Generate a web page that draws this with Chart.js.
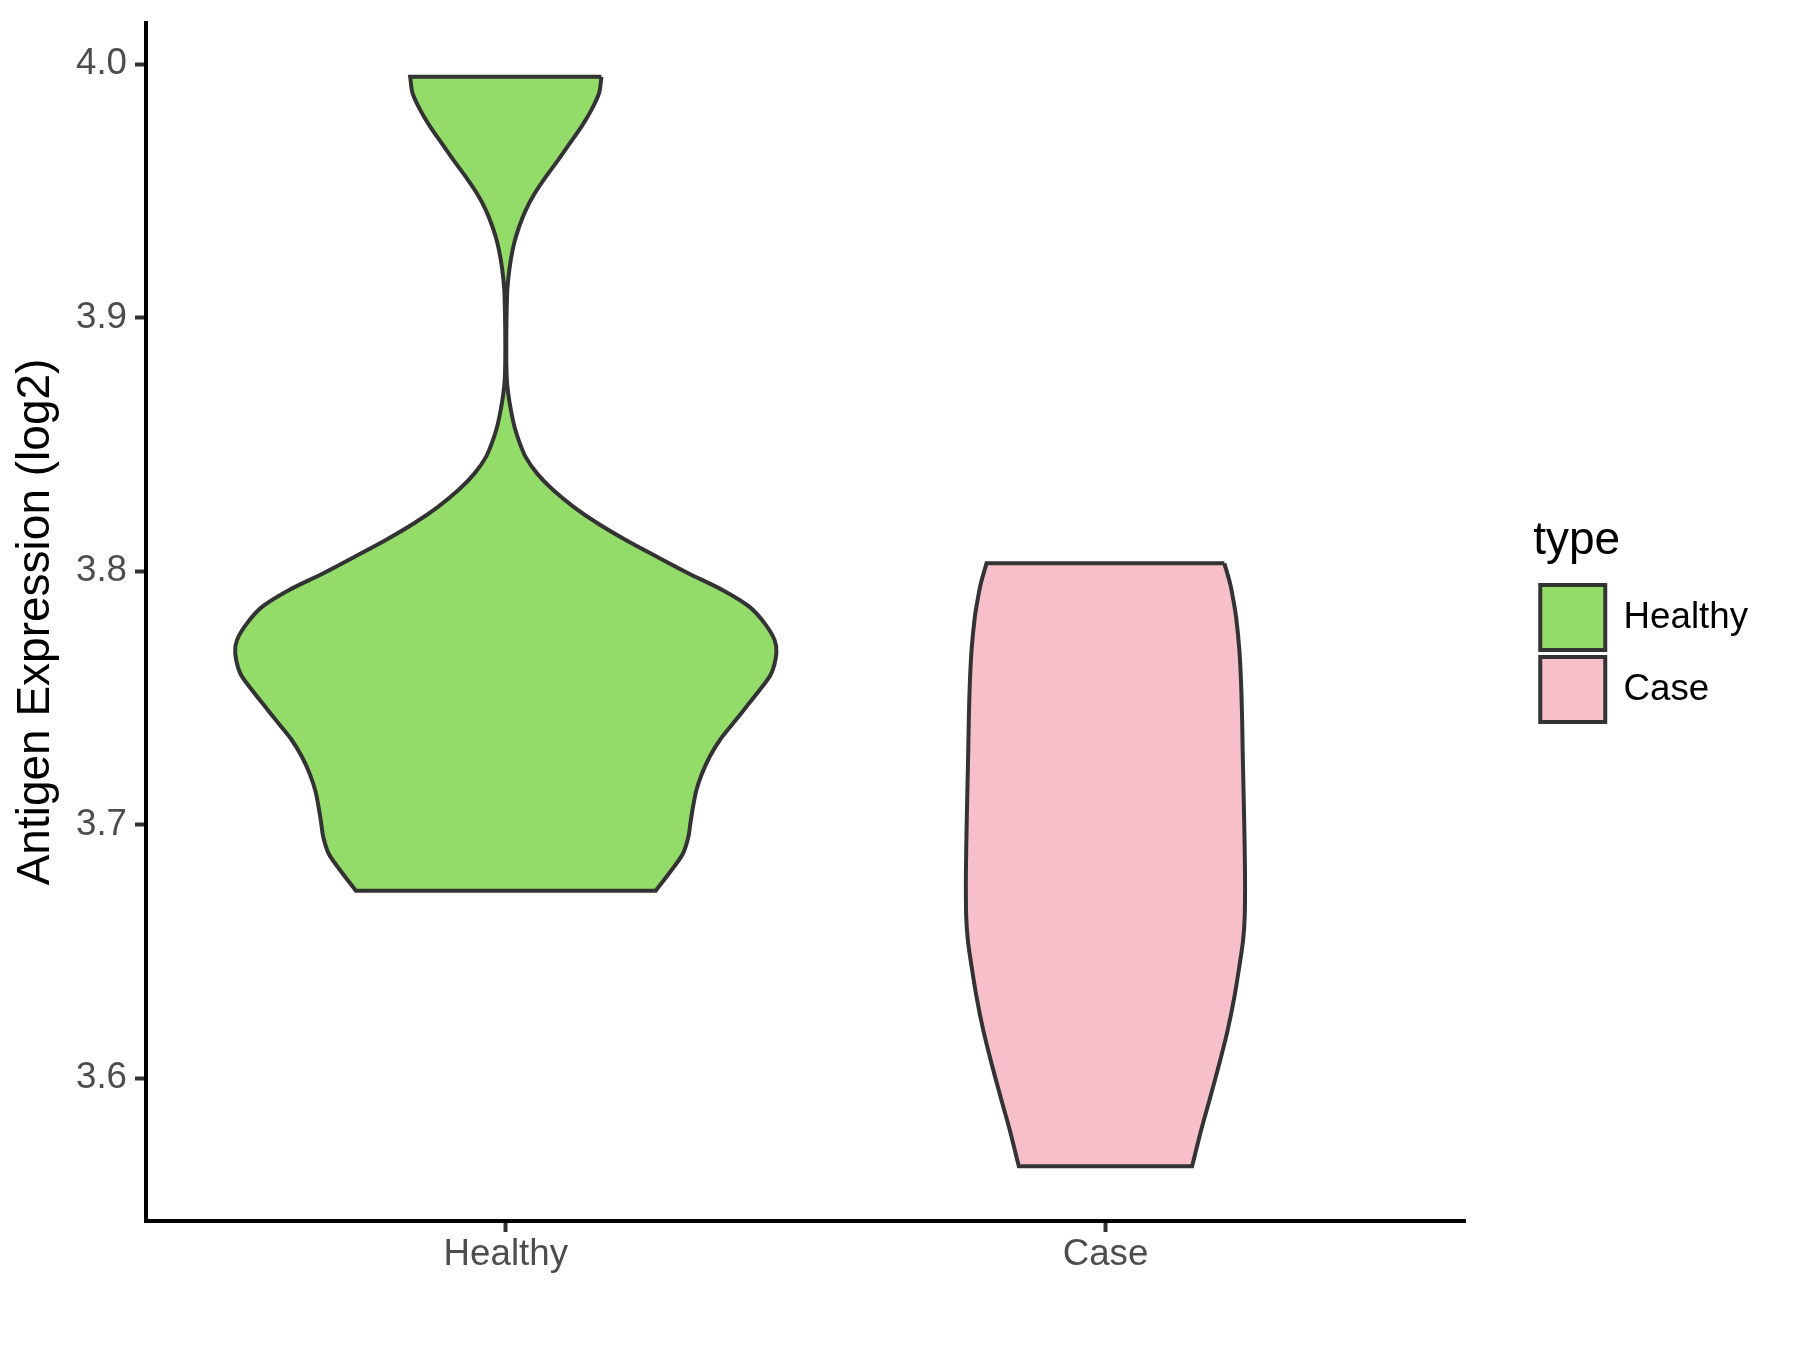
<!DOCTYPE html>
<html>
<head>
<meta charset="utf-8">
<script src="https://cdn.jsdelivr.net/npm/chart.js@4.4.1/dist/chart.umd.min.js"></script>
<style>
  body { margin: 0; background: #ffffff; }
  canvas { display: block; }
</style>
</head>
<body>
<canvas id="myChart" width="1800" height="1350"></canvas>
<script>
// categories and axis ticks
var categories = ['Healthy', 'Case'];
var yTicks = [3.6, 3.7, 3.8, 3.9, 4.0];

// violin outlines: y value and half width (in category units)
var healthyY = [3.9951, 3.9886, 3.9820, 3.9754, 3.9688, 3.9622, 3.9556, 3.9491, 3.9425, 3.9359,
    3.9294, 3.9228, 3.9162, 3.9096, 3.8899, 3.8767, 3.8702, 3.8636, 3.8570, 3.8517,
    3.8451, 3.8386, 3.8320, 3.8254, 3.8189, 3.8123, 3.8057, 3.7991, 3.7925, 3.7860,
    3.7794, 3.7728, 3.7676, 3.7597, 3.7531, 3.7465, 3.7399, 3.7333, 3.7268, 3.7202,
    3.7136, 3.7070, 3.7005, 3.6952, 3.6886, 3.6820, 3.6739];
var healthyHalfWidth = [0.1595, 0.1555, 0.1428, 0.1262, 0.1067, 0.0872, 0.0667, 0.0483, 0.0333, 0.0222,
    0.0139, 0.0083, 0.0045, 0.0022, 0.0008, 0.0015, 0.0040, 0.0085, 0.0145, 0.0215,
    0.0330, 0.0520, 0.0790, 0.1130, 0.1530, 0.2000, 0.2520, 0.3050, 0.3620, 0.4060,
    0.4317, 0.4483, 0.4512, 0.4428, 0.4233, 0.4012, 0.3788, 0.3567, 0.3400, 0.3272,
    0.3178, 0.3122, 0.3078, 0.3045, 0.2955, 0.2762, 0.2500];

var caseY = [3.8031, 3.7952, 3.7886, 3.7820, 3.7689, 3.7557, 3.7425, 3.7294, 3.7163, 3.7031,
    3.6899, 3.6768, 3.6636, 3.6544, 3.6452, 3.6320, 3.6189, 3.6058, 3.5926, 3.5794, 3.5652];
var caseHalfWidth = [0.1983, 0.2078, 0.2133, 0.2178, 0.2233, 0.2262, 0.2278, 0.2288, 0.2300, 0.2312,
    0.2322, 0.2328, 0.2322, 0.2295, 0.2240, 0.2150, 0.2038, 0.1900, 0.1750, 0.1595, 0.1445];

var fillColors = ['#93DC6A', '#F7BFCA'];

// closed outline: down the right side, back up the left side.
// corner points are doubled so the flat ends stay straight
function outline(center, ys, hw) {
    var n = ys.length - 1;
    var pts = [];
    for (var i = 0; i <= n; i++) pts.push({ x: center + hw[i], y: ys[i] });
    pts.push({ x: center + hw[n], y: ys[n] });
    for (var j = n; j >= 0; j--) {
        pts.push({ x: center - hw[j], y: ys[j] });
        if (j === n || j === 0) pts.push({ x: center - hw[j], y: ys[j] });
    }
    pts.push({ x: center + hw[0], y: ys[0] });
    return pts;
}

var violins = [
    outline(1, healthyY, healthyHalfWidth),
    outline(2, caseY, caseHalfWidth)
];

Chart.defaults.font.family = "'Liberation Sans', Arial, sans-serif";

var ctx = document.getElementById('myChart').getContext('2d');

var myChart = new Chart(ctx, {
    type: 'scatter',
    data: {
        datasets: categories.map(function (name, i) {
            return {
                label: name,
                data: violins[i],
                showLine: true,
                fill: 'shape',
                tension: 0.3,
                backgroundColor: fillColors[i],
                borderColor: '#333333',
                borderWidth: 4,
                pointRadius: 0,
                pointHoverRadius: 0
            };
        })
    },
    options: {
        responsive: false,
        devicePixelRatio: 1,
        animation: false,
        events: [],
        layout: { padding: { left: 0, top: 23, right: 42, bottom: 29 } },
        scales: {
            x: {
                type: 'linear',
                min: 0.4,
                max: 2.6,
                afterBuildTicks: function (scale) {
                    scale.ticks = categories.map(function (c, i) { return { value: i + 1 }; });
                },
                afterFit: function (scale) {
                    scale.height = 100;
                    scale.paddingLeft = 0;
                    scale.paddingRight = 0;
                },
                ticks: {
                    color: '#4D4D4D',
                    font: { size: 36.7 },
                    padding: 1,
                    callback: function (value) { return categories[Math.round(value) - 1]; }
                },
                grid: {
                    display: true,
                    drawOnChartArea: false,
                    drawTicks: true,
                    tickLength: 11,
                    tickColor: '#333333',
                    tickWidth: 4
                },
                border: { display: true, color: '#000000', width: 4 }
            },
            y: {
                type: 'linear',
                min: 3.5436,
                max: 4.0163,
                afterBuildTicks: function (scale) {
                    scale.ticks = yTicks.map(function (v) { return { value: v }; });
                },
                afterFit: function (scale) {
                    scale.width = 146;
                    scale.paddingTop = 0;
                    scale.paddingBottom = 0;
                },
                ticks: {
                    color: '#4D4D4D',
                    font: { size: 36.7 },
                    padding: 8,
                    callback: function (value) { return value.toFixed(1); }
                },
                grid: {
                    display: true,
                    drawOnChartArea: false,
                    drawTicks: true,
                    tickLength: 11,
                    tickColor: '#333333',
                    tickWidth: 4
                },
                border: { display: true, color: '#000000', width: 4 },
                title: {
                    display: true,
                    text: 'Antigen Expression (log2)',
                    color: '#000000',
                    font: { size: 46 },
                    padding: { top: 9, bottom: 0 }
                }
            },
            // empty right-hand axis, only keeps the gap between panel and legend
            gap: {
                type: 'linear',
                position: 'right',
                display: true,
                afterFit: function (scale) {
                    scale.width = 68;
                    scale.paddingTop = 0;
                    scale.paddingBottom = 0;
                },
                ticks: { display: false },
                grid: { display: false },
                border: { display: false }
            }
        },
        plugins: {
            tooltip: { enabled: false },
            legend: {
                display: true,
                position: 'right',
                align: 'center',
                fullSize: false,
                maxWidth: 226,
                title: {
                    display: true,
                    text: 'type',
                    color: '#000000',
                    position: 'start',
                    font: { size: 46 },
                    padding: { top: 3, bottom: 5 }
                },
                labels: {
                    boxWidth: 65,
                    boxHeight: 65,
                    padding: 7,
                    color: '#000000',
                    font: { size: 36.7 }
                }
            }
        }
    }
});
</script>
</body>
</html>
